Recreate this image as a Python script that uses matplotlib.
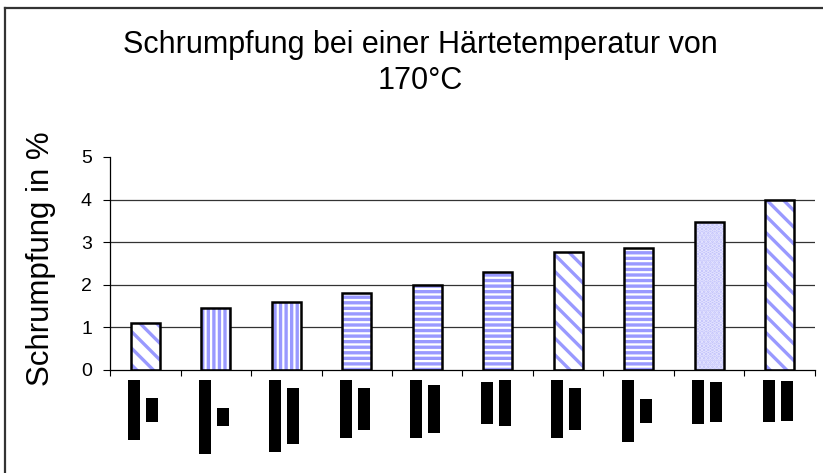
import matplotlib
matplotlib.use("Agg")
import matplotlib.pyplot as plt
import numpy as np
from matplotlib.patches import Rectangle
from matplotlib.transforms import IdentityTransform, Bbox

# Werte
categories = list(range(1, 11))
schrumpfung = [1.1, 1.45, 1.6, 1.8, 2.0, 2.3, 2.77, 2.86, 3.48, 4.0]
muster = ["\\\\", "|||", "|||", "---", "---", "---", "\\\\", "---", "dots", "\\\\"]

# Beschriftungen der Kategorien sind im Original geschwärzt (zwei Zeilen, Länge in px)
schwarz_zeile1 = [60, 74, 72, 58, 58, 42, 58, 62, 44, 42]
schwarz_zeile2 = [24, 18, 56, 42, 48, 46, 42, 24, 40, 40]

plt.rcParams["font.family"] = ["Liberation Sans", "DejaVu Sans"]
plt.rcParams["hatch.linewidth"] = 2.4

W, H = 823, 473
fig = plt.figure(figsize=(W / 100, H / 100), dpi=100)
ax = fig.add_axes([110 / W, 1 - 370 / H, (815 - 110) / W, (370 - 157) / H])

x = np.arange(len(categories))
blau = "#9999ff"
for xi, wert, m in zip(x, schrumpfung, muster):
    if m == "dots":
        ax.bar(xi, wert, width=0.41, color="#c0c0fb", edgecolor="#e6e6ff",
               hatch="....", linewidth=0, zorder=2)
    else:
        ax.bar(xi, wert, width=0.41, color="white", edgecolor=blau,
               hatch=m, linewidth=0, zorder=2)
ax.bar(x, schrumpfung, width=0.41, fill=False, edgecolor="black",
       linewidth=1.8, zorder=3)

ax.set_xlim(-0.5, len(categories) - 0.5)
ax.set_ylim(0, 5)
ax.set_yticks([0, 1, 2, 3, 4, 5])
ax.tick_params(axis="y", labelsize=14, length=5, width=0.8, pad=8)
ax.set_xticks(np.arange(len(categories) + 1) - 0.5)
ax.set_xticklabels([])
ax.tick_params(axis="x", length=4, width=0.8)
for yv in [1, 2, 3, 4]:
    ax.axhline(yv, color="#333333", linewidth=0.9, zorder=1)
for s in ["top", "right"]:
    ax.spines[s].set_visible(False)
ax.spines["left"].set_linewidth(0.9)
ax.spines["bottom"].set_linewidth(0.9)

# Achsentitel, oben abgeschnitten wie im Original
ylab = ax.set_ylabel("Schrumpfung in %", fontsize=22.5)
ylab.set_va("center")
ax.yaxis.set_label_coords((41 - 110) / 705, (370 - 259) / 213)
ylab.set_clip_box(Bbox([[0, 0], [W, H - 133]]))
ylab.set_clip_on(True)

fig.text(420 / W, 1 - 63 / H, "Schrumpfung bei einer Härtetemperatur von\n170°C",
         ha="center", va="center", fontsize=22, linespacing=1.3)

# geschwärzte Kategorienbeschriftungen
for xi, l1, l2 in zip(x, schwarz_zeile1, schwarz_zeile2):
    px, py = ax.transData.transform((xi, 0))
    oben = py - 10
    mitte = oben - max(l1, l2) / 2
    for dx, laenge in [(-17, l1), (1, l2)]:
        fig.add_artist(Rectangle((px + dx, mitte - laenge / 2), 12, laenge,
                                 facecolor="black", edgecolor="none",
                                 transform=IdentityTransform()))

# Rahmen oben und links
fig.add_artist(plt.Line2D([5 / W, 1], [1 - 8 / H, 1 - 8 / H], color="#333333",
                          linewidth=1.6, transform=fig.transFigure))
fig.add_artist(plt.Line2D([5 / W, 5 / W], [0, 1 - 8 / H], color="#333333",
                          linewidth=1.6, transform=fig.transFigure))

fig.savefig("out.png", dpi=100)
